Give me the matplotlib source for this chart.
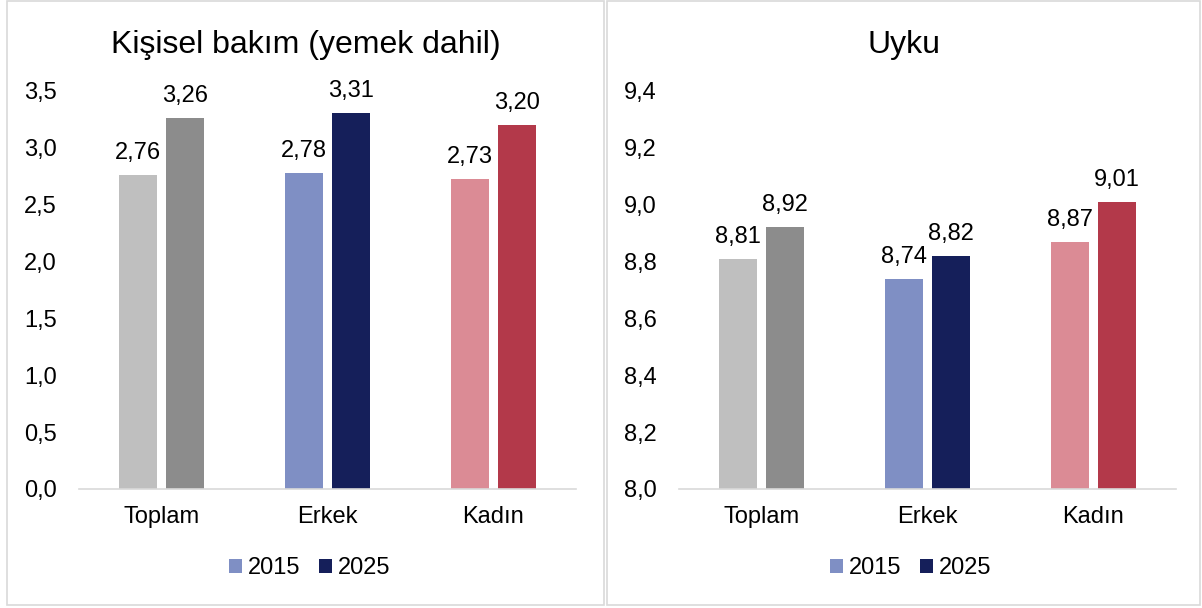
import matplotlib
matplotlib.use("Agg")
import matplotlib.pyplot as plt
from matplotlib.patches import Rectangle, Patch

plt.rcParams['font.family'] = ['Liberation Sans', 'DejaVu Sans']

categories = ["Toplam", "Erkek", "Kadın"]
years = ["2015", "2025"]
personal_2015 = [2.76, 2.78, 2.73]
personal_2025 = [3.26, 3.31, 3.20]
sleep_2015 = [8.81, 8.74, 8.87]
sleep_2025 = [8.92, 8.82, 9.01]
title_left = "Kişisel bakım (yemek dahil)"
title_right = "Uyku"
left_ticks = [0.0, 0.5, 1.0, 1.5, 2.0, 2.5, 3.0, 3.5]
right_ticks = [8.0, 8.2, 8.4, 8.6, 8.8, 9.0, 9.2, 9.4]

colors_2015 = ["#bfbfbf", "#7f8fc4", "#db8b95"]
colors_2025 = ["#8c8c8c", "#151f5a", "#b3394a"]
legend_colors = ["#7f8fc4", "#151f5a"]

W, H = 1202, 608
fig = plt.figure(figsize=(W / 100, H / 100), dpi=100)
FS = 17
GRID = "#d9d9d9"


def fx(px):
    return px / W


def fy(py):
    return 1 - py / H


# panel borders
for x0, x1 in [(7, 604), (607, 1200)]:
    fig.patches.append(Rectangle((fx(x0), fy(605)), fx(x1 - x0), (605 - 1) / H,
                                 transform=fig.transFigure, fill=False,
                                 edgecolor=GRID, linewidth=1.2))


def fmt(v, d):
    return f"{v:.{d}f}".replace(".", ",")


def draw(x0, x1, v15, v25, ticks, title, tcx, lcx):
    ax = fig.add_axes([fx(x0), fy(489), fx(x1 - x0), (489 - 91) / H])
    xs = range(len(categories))
    off, bw = 0.142, 0.23
    b1 = ax.bar([x - off for x in xs], v15, width=bw, color=colors_2015)
    b2 = ax.bar([x + off for x in xs], v25, width=bw, color=colors_2025)
    for bars, vals in [(b1, v15), (b2, v25)]:
        for b, v in zip(bars, vals):
            ax.annotate(fmt(v, 2), (b.get_x() + b.get_width() / 2, v),
                        xytext=(0, 11.5), textcoords="offset points",
                        ha="center", va="baseline", fontsize=FS, color="#000000")
    ax.set_xlim(-0.5, len(categories) - 0.5)
    ax.set_ylim(ticks[0], ticks[-1])
    ax.set_yticks(ticks)
    ax.set_yticklabels([fmt(t, 1) for t in ticks])
    ax.set_xticks(list(xs))
    ax.set_xticklabels(categories)
    ax.tick_params(axis="y", length=0, pad=16, labelsize=FS, colors="#000000")
    ax.tick_params(axis="x", length=0, pad=12, labelsize=FS, colors="#000000")
    for s in ["top", "right", "left"]:
        ax.spines[s].set_visible(False)
    ax.spines["bottom"].set_color(GRID)
    ax.spines["bottom"].set_linewidth(1.2)
    ax.patch.set_alpha(0)
    fig.text(fx(tcx), fy(45), title, ha="center", va="center", fontsize=23, color="#000000")
    handles = [Patch(facecolor=c, edgecolor="none") for c in legend_colors]
    fig.legend(handles, years, loc="center", bbox_to_anchor=(fx(lcx), fy(568)),
               ncol=2, frameon=False, fontsize=FS, handlelength=0.55, handleheight=0.55,
               handletextpad=0.25, columnspacing=0.8, borderpad=0, borderaxespad=0)
    return ax


draw(79, 576, personal_2015, personal_2025, left_ticks, title_left, 306, 310)
draw(679, 1176, sleep_2015, sleep_2025, right_ticks, title_right, 904, 911)

fig.savefig("out.png", dpi=100, facecolor="white")
